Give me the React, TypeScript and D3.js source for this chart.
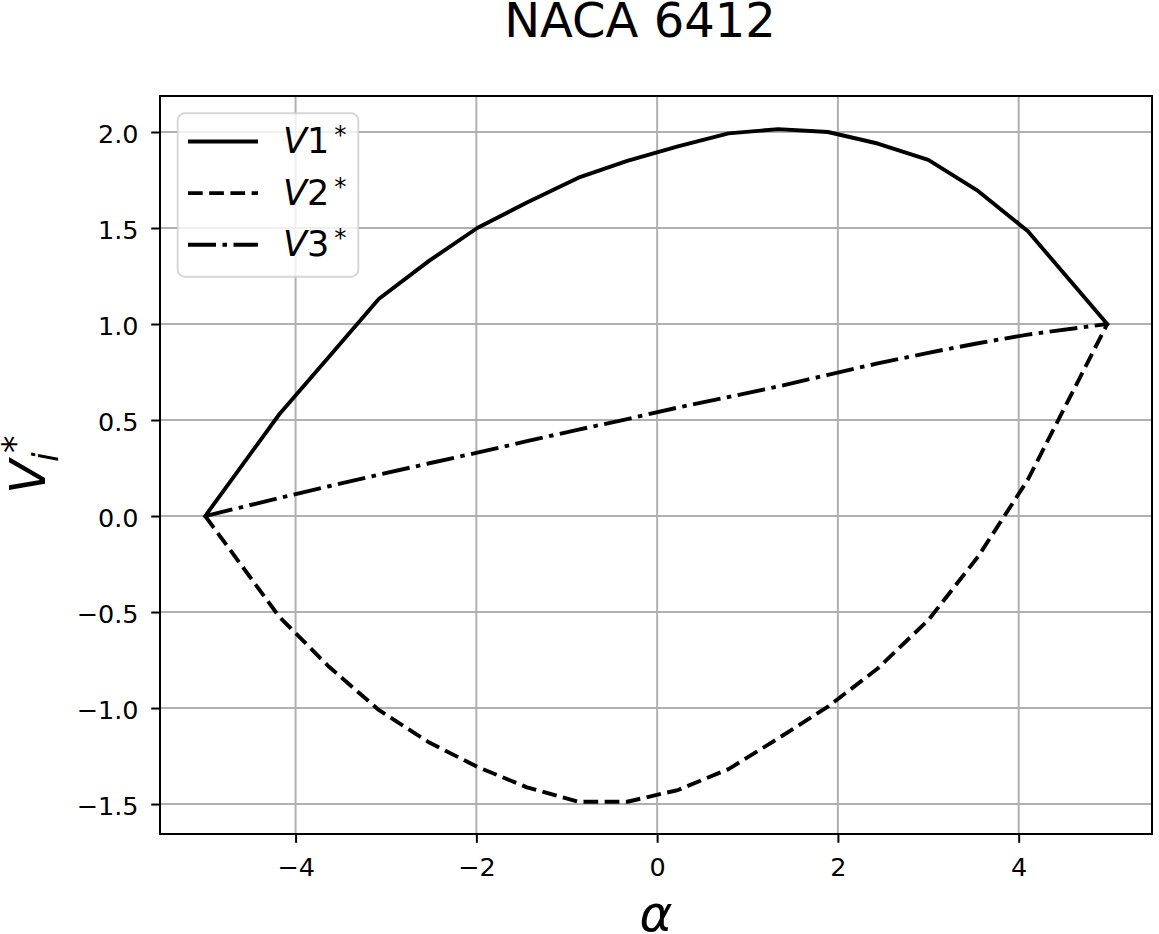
import React, { useRef, useEffect } from 'react';
import * as d3 from 'd3';

// angle of attack and the three normalised values
const alpha = [-5, -4.18, -3.63, -3.08, -2.52, -1.99, -1.44, -0.87, -0.33, 0.23, 0.79, 1.34, 1.89, 2.44, 3.0, 3.55, 4.1, 4.98];
const v1 = [0, 0.53, 0.83, 1.13, 1.33, 1.5, 1.633, 1.762, 1.85, 1.925, 1.993, 2.015, 2.0, 1.94, 1.855, 1.693, 1.484, 1.0];
const v2 = [0, -0.525, -0.785, -1.01, -1.18, -1.306, -1.413, -1.488, -1.488, -1.427, -1.318, -1.158, -0.993, -0.794, -0.542, -0.212, 0.188, 1.0];
const v3 = [0, 0.094, 0.155, 0.215, 0.275, 0.33, 0.39, 0.45, 0.505, 0.565, 0.62, 0.675, 0.735, 0.795, 0.85, 0.9, 0.945, 1.0];

const xTicks = [-4, -2, 0, 2, 4];
const yTicks = [-1.5, -1.0, -0.5, 0.0, 0.5, 1.0, 1.5, 2.0];
const seriesNames = ['1', '2', '3'];

const FONT = '"DejaVu Sans", sans-serif';

export default function App() {
  const svgRef = useRef<SVGSVGElement>(null);
  const width = 1159;
  const height = 934;

  useEffect(() => {
    if (!svgRef.current) return;
    const svg = d3.select(svgRef.current);
    svg.selectAll('*').remove();

    const left = 160, right = 1152, top = 96, bottom = 834;

    const x = d3.scaleLinear().domain([-5.5, 5.475]).range([left, right]);
    const y = d3.scaleLinear().domain([-1.656, 2.1875]).range([bottom, top]);

    svg.append('defs').append('clipPath').attr('id', 'plot-clip')
      .append('rect')
      .attr('x', left).attr('y', top)
      .attr('width', right - left).attr('height', bottom - top);

    // grid
    const grid = svg.append('g').attr('stroke', '#b0b0b0').attr('stroke-width', 2);
    xTicks.forEach(t => {
      grid.append('line').attr('x1', x(t)).attr('x2', x(t)).attr('y1', top).attr('y2', bottom);
    });
    yTicks.forEach(t => {
      grid.append('line').attr('x1', left).attr('x2', right).attr('y1', y(t)).attr('y2', y(t));
    });

    // series
    const styles = [
      { data: v1, dash: null, cap: 'square' },
      { data: v2, dash: '14.7,6.5', cap: 'butt' },
      { data: v3, dash: '28,6.5,4.5,6.5', cap: 'butt' },
    ];

    const line = d3.line<number>()
      .x((_, i) => x(alpha[i]))
      .y(d => y(d));

    const lines = svg.append('g').attr('clip-path', 'url(#plot-clip)');
    styles.forEach(s => {
      lines.append('path')
        .attr('d', line(s.data))
        .attr('fill', 'none')
        .attr('stroke', '#000')
        .attr('stroke-width', 3.9)
        .attr('stroke-linejoin', 'round')
        .attr('stroke-linecap', s.cap)
        .attr('stroke-dasharray', s.dash);
    });

    // axes
    const xAxis = d3.axisBottom(x)
      .tickValues(xTicks)
      .tickSize(8.8)
      .tickSizeOuter(0)
      .tickPadding(15)
      .tickFormat(d3.format('d'));
    const gx = svg.append('g').attr('transform', `translate(0,${bottom})`).call(xAxis);

    const yAxis = d3.axisLeft(y)
      .tickValues(yTicks)
      .tickSize(8.8)
      .tickSizeOuter(0)
      .tickPadding(12.7)
      .tickFormat(d3.format('.1f'));
    const gy = svg.append('g').attr('transform', `translate(${left},0)`).call(yAxis);

    [gx, gy].forEach(g => {
      g.select('.domain').remove();
      g.selectAll('.tick line').attr('stroke', '#000').attr('stroke-width', 2);
      g.selectAll('.tick text')
        .attr('fill', '#000')
        .style('font-family', FONT)
        .style('font-size', '25.5px');
    });
    gy.selectAll('.tick text').attr('dy', '0.41em');

    // frame
    svg.append('rect')
      .attr('x', left).attr('y', top)
      .attr('width', right - left).attr('height', bottom - top)
      .attr('fill', 'none').attr('stroke', '#000').attr('stroke-width', 2);

    // legend
    const legend = svg.append('g');
    legend.append('rect')
      .attr('x', 177.7).attr('y', 113.3)
      .attr('width', 180.6).attr('height', 163.4)
      .attr('rx', 7)
      .attr('fill', '#fff').attr('fill-opacity', 0.8)
      .attr('stroke', '#cccccc').attr('stroke-opacity', 0.8).attr('stroke-width', 2);

    styles.forEach((s, i) => {
      const ly = 141.5 + i * 51.6;
      legend.append('line')
        .attr('x1', 188).attr('x2', 258)
        .attr('y1', ly).attr('y2', ly)
        .attr('stroke', '#000')
        .attr('stroke-width', 3.9)
        .attr('stroke-linecap', 'butt')
        .attr('stroke-dasharray', s.dash);
      const t = legend.append('text')
        .attr('x', 283).attr('y', ly + 11.5)
        .style('font-family', FONT)
        .style('font-size', '35px');
      t.append('tspan').style('font-style', 'italic').text('V');
      t.append('tspan').text(seriesNames[i]);
      t.append('tspan').attr('dx', 5).attr('dy', -10).style('font-size', '24.5px').text('*');
    });

    // title
    svg.append('text')
      .attr('x', 640).attr('y', 37)
      .attr('text-anchor', 'middle')
      .style('font-family', FONT)
      .style('font-size', '48px')
      .text('NACA 6412');

    // x label
    svg.append('text')
      .attr('x', (left + right) / 2).attr('y', 931)
      .attr('text-anchor', 'middle')
      .style('font-family', FONT)
      .style('font-size', '50px')
      .style('font-style', 'italic')
      .text('α');

    // y label
    const yl = svg.append('g')
      .attr('transform', `translate(45,${(top + bottom) / 2}) rotate(-90)`)
      .style('font-family', FONT);
    yl.append('text').attr('x', -29).attr('y', 0)
      .style('font-size', '50px').style('font-style', 'italic').text('V');
    yl.append('text').attr('x', 3).attr('y', 13)
      .style('font-size', '35px').style('font-style', 'italic').text('i');
    yl.append('text').attr('x', 12).attr('y', -18)
      .style('font-size', '35px').text('*');
  }, []);

  return (
    <div style={{ position: 'absolute', left: 0, top: 0 }}>
      <svg ref={svgRef} width={width} height={height} style={{ display: 'block', background: '#fff' }} />
    </div>
  );
}
